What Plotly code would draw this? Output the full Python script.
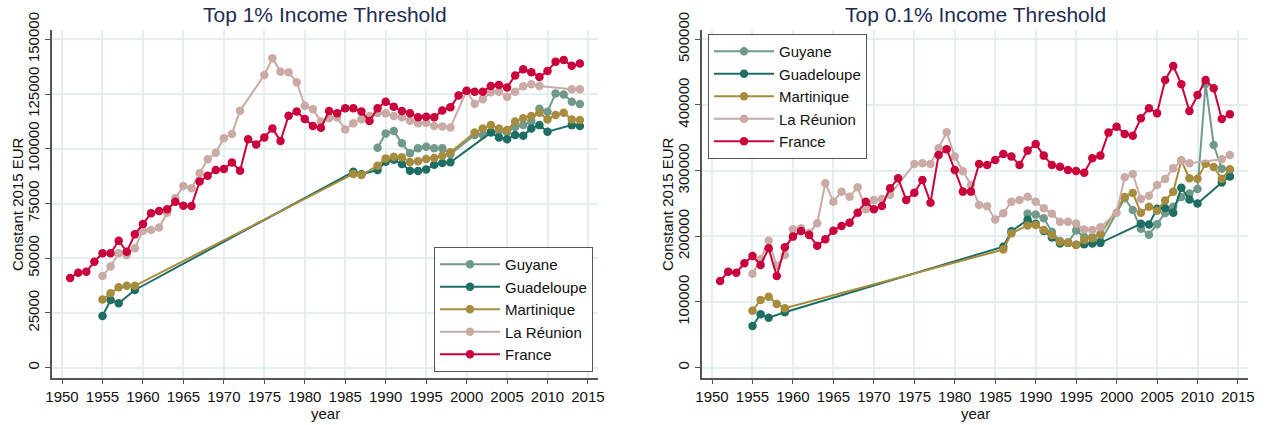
import plotly.graph_objects as go

# series names and colours (Stata-like palette)
names = ['Guyane', 'Guadeloupe', 'Martinique', 'La Réunion', 'France']
colors = ['#6f9a8a', '#1f6e63', '#a88c3e', '#c9aaa4', '#c9003b']

# ---- Top 1% income threshold (constant 2015 EUR)
p99_guyane_yr = [1989, 1990, 1991, 1992, 1993, 1994, 1995, 1996, 1997, 1998,
                 2001, 2002, 2003, 2004, 2005, 2006, 2007, 2008, 2009, 2010, 2011, 2012, 2013, 2014]
p99_guyane = [100500, 107000, 108100, 102500, 98000, 100200, 100900, 100200, 100200, 97500,
              106300, 106300, 107800, 108000, 107500, 110000, 110900, 112400, 118300, 116900, 125300, 124800, 121500, 120400]

p99_guadeloupe_yr = [1955, 1956, 1957, 1959, 1986, 1987, 1989, 1990, 1991, 1992, 1993, 1994, 1995, 1996, 1997, 1998,
                     2003, 2004, 2005, 2006, 2007, 2008, 2009, 2010, 2013, 2014]
p99_guadeloupe = [23600, 30900, 29400, 35500, 89500, 88400, 90300, 94100, 95000, 93000, 90000, 89800, 90500, 92700, 93500, 93800,
                  107400, 105200, 104300, 106300, 105900, 109300, 110800, 107800, 110800, 110400]

p99_martinique_yr = [1955, 1956, 1957, 1958, 1959, 1986, 1987, 1989, 1990, 1991, 1992, 1993, 1994, 1995, 1996, 1997, 1998,
                     2001, 2002, 2003, 2004, 2005, 2006, 2007, 2008, 2009, 2010, 2011, 2012, 2013, 2014]
p99_martinique = [31200, 34000, 36700, 37400, 37400, 88500, 88000, 92300, 95600, 96400, 96100, 94000, 94300, 95300, 95800, 96800, 98400,
                  107400, 109300, 110800, 109300, 108600, 112400, 113900, 115000, 116500, 113400, 115400, 116500, 113400, 113100]

p99_reunion_yr = [1955, 1956, 1957, 1958, 1959, 1960, 1961, 1962, 1963, 1964, 1965, 1966, 1967, 1968, 1969, 1970, 1971, 1972,
                  1975, 1976, 1977, 1978, 1979, 1980, 1981, 1982, 1983, 1984, 1985, 1986, 1987, 1988, 1989, 1990,
                  1991, 1992, 1993, 1994, 1995, 1996, 1997, 1998, 2000, 2001, 2002, 2003, 2004, 2005, 2006, 2007,
                  2008, 2009, 2013, 2014]
p99_reunion = [41900, 46200, 52300, 51500, 54600, 62600, 62900, 64000, 70800, 77400, 83000, 82000, 88800, 95200, 98200, 104800, 106800, 117400,
               133700, 141300, 135200, 134900, 130400, 119600, 118100, 112400, 114000, 114300, 108800, 111600, 113500, 115000, 116300, 116200,
               115000, 114400, 112800, 111700, 111900, 110400, 110200, 109700, 126500, 120600, 122600, 125800, 126000, 123800, 126100, 128500,
               129500, 128700, 127150, 127150]

p99_france_yr = list(range(1951, 2015))
p99_france = [41000, 43400, 43800, 48400, 52300, 52300, 58000, 53000, 60900, 65600,
              70500, 71600, 72400, 75800, 74000, 73900, 85000, 87700, 90300, 90800,
              93700, 90000, 104300, 102000, 105200, 109300, 103600, 115100, 117000, 113600,
              110400, 109600, 117200, 116200, 118500, 118500, 117000, 112700, 118500, 121500,
              119200, 117200, 116200, 114400, 114600, 114400, 117500, 119000, 124300, 126500,
              126000, 126000, 128700, 129100, 128000, 133500, 136300, 135000, 132800, 135500,
              139800, 140500, 137900, 138900]

# ---- Top 0.1% income threshold (constant 2015 EUR)
p999_guyane_yr = p99_guyane_yr
p999_guyane = [234500, 233000, 227400, 207000, 193000, 190000, 209000, 199000, 199000, 192000,
               258000, 240000, 211500, 202500, 218500, 235500, 245000, 260000, 265000, 272000, 432000, 339000, 303000, 301000]

p999_guadeloupe_yr = p99_guadeloupe_yr
p999_guadeloupe = [63500, 81300, 76100, 84300, 184200, 207600, 225000, 219000, 208000, 198000, 189000, 190000, 187000, 188000, 189000, 190000,
                   219000, 218000, 242000, 243000, 236000, 274000, 256000, 250000, 282000, 291000]

p999_martinique_yr = p99_martinique_yr
p999_martinique = [86800, 103100, 108100, 97000, 90400, 179800, 204500, 216500, 217300, 209600, 202000, 191800, 190300, 186800, 194400, 197000, 203100,
                   260000, 266000, 236000, 245100, 238800, 254500, 267900, 315200, 288300, 287500, 310600, 305500, 287500, 302000]

p999_reunion_yr = p99_reunion_yr
p999_reunion = [143000, 165000, 193400, 155000, 171600, 210700, 212200, 205000, 219900, 280800, 252700, 267900, 260300, 274600, 241200, 255300, 256800, 263400,
                310100, 311100, 310100, 334000, 358400, 321300, 299000, 278200, 247700, 245600, 225600, 235000, 252700, 255300, 260300, 252700,
                242700, 234500, 222300, 222300, 219300, 210200, 209600, 213900, 236000, 289900, 294900, 256800, 261900, 278200, 287300, 303600,
                314700, 311100, 317200, 323800]

p999_france_yr = p99_france_yr
p999_france = [132000, 146200, 144600, 158900, 170100, 156400, 181800, 139600, 183300, 199500,
               208100, 202000, 185700, 195500, 208600, 215700, 220800, 236000, 252700, 241200,
               246200, 273100, 288300, 255300, 266400, 285800, 251200, 323800, 332500, 301000,
               268000, 268000, 310100, 308600, 316200, 325400, 321300, 308600, 330400, 340600,
               322800, 308600, 306000, 301000, 299500, 296900, 318800, 322800, 357800, 366900,
               355800, 353200, 379700, 394900, 387300, 438000, 459300, 431500, 390800, 415200,
               438000, 425400, 378700, 385800]

left = [(p99_guyane_yr, p99_guyane), (p99_guadeloupe_yr, p99_guadeloupe), (p99_martinique_yr, p99_martinique),
        (p99_reunion_yr, p99_reunion), (p99_france_yr, p99_france)]
right = [(p999_guyane_yr, p999_guyane), (p999_guadeloupe_yr, p999_guadeloupe), (p999_martinique_yr, p999_martinique),
         (p999_reunion_yr, p999_reunion), (p999_france_yr, p999_france)]

fig = go.Figure()
for i, (x, y) in enumerate(left):
    fig.add_trace(go.Scatter(x=x, y=y, name=names[i], mode='lines+markers',
                             line=dict(color=colors[i], width=2), marker=dict(color=colors[i], size=8.5),
                             xaxis='x', yaxis='y', legend='legend'))
for i, (x, y) in enumerate(right):
    fig.add_trace(go.Scatter(x=x, y=y, name=names[i], mode='lines+markers',
                             line=dict(color=colors[i], width=2), marker=dict(color=colors[i], size=8.5),
                             xaxis='x2', yaxis='y2', legend='legend2'))

W, H = 1265, 425


def xp(px):
    return px / W


def yp(py):
    return (H - py) / H


FONT = 'Liberation Sans, Arial, sans-serif'
grid = '#e4eef0'
axcol = '#555555'
year_ticks = list(range(1950, 2016, 5))

xcommon = dict(range=[1948.76, 2016.24], tickvals=year_ticks, showgrid=True, gridcolor=grid, gridwidth=1.5,
               showline=True, linecolor=axcol, linewidth=1.5, ticks='outside', ticklen=5, tickcolor=axcol,
               tickfont=dict(size=15, color='#111'), zeroline=False, automargin=False)
ycommon = dict(showgrid=True, gridcolor=grid, gridwidth=1.5, showline=True, linecolor=axcol, linewidth=1.5,
               ticks='outside', ticklen=5, tickcolor=axcol, tickangle=-90, tickformat='d',
               tickfont=dict(size=15, color='#111'), zeroline=False, automargin=False)

ydom = [yp(377.7), yp(30)]
legend_common = dict(bordercolor='#555', borderwidth=1, bgcolor='white', itemwidth=60,
                     font=dict(size=15, color='#111'))
fig.update_layout(
    width=W, height=H, margin=dict(l=0, r=0, t=0, b=0),
    paper_bgcolor='white', plot_bgcolor='white', font=dict(family=FONT),
    xaxis=dict(domain=[xp(52), xp(598)], anchor='y', **xcommon),
    yaxis=dict(domain=ydom, anchor='x', range=[-4570, 154250], tickvals=list(range(0, 150001, 25000)), **ycommon),
    xaxis2=dict(domain=[xp(702), xp(1248)], anchor='y2', **xcommon),
    yaxis2=dict(domain=ydom, anchor='x2', range=[-15230, 514000], tickvals=list(range(0, 500001, 100000)), **ycommon),
    legend=dict(x=xp(593), xanchor='right', y=yp(372), yanchor='bottom', **legend_common),
    legend2=dict(x=xp(708), xanchor='left', y=yp(34), yanchor='top', **legend_common),
)

title_font = dict(size=21, color='#1e2b52')
label_font = dict(size=15, color='#111')


def note(text, px, py, font, angle=0):
    fig.add_annotation(text=text, x=xp(px), y=yp(py), xref='paper', yref='paper', xanchor='center',
                       yanchor='middle', showarrow=False, textangle=angle, font=font)


note('Top 1% Income Threshold', 325, 15, title_font)
note('Top 0.1% Income Threshold', 975, 15, title_font)
note('Constant 2015 EUR', 17, 204, label_font, -90)
note('Constant 2015 EUR', 667, 204, label_font, -90)
note('year', 325, 413, label_font)
note('year', 975, 413, label_font)

# drop the browser's default body margin so the figure fills the window
fig.write_html("out.html", config={'displayModeBar': False},
               post_script="document.body.style.margin='0';")
